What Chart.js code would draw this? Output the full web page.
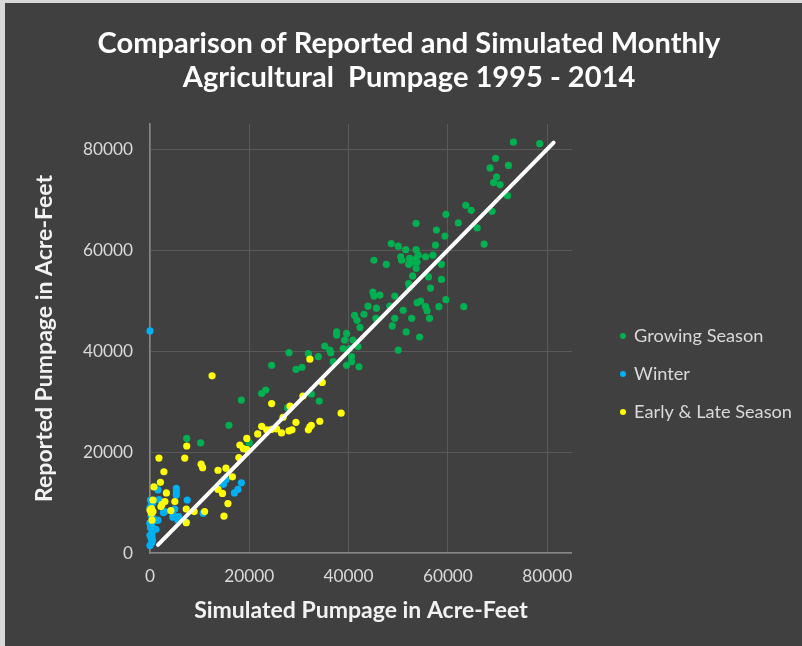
<!DOCTYPE html>
<html><head><meta charset="utf-8">
<script src="https://cdn.jsdelivr.net/npm/chart.js@4.4.1/dist/chart.umd.min.js"></script>
<style>
html,body{margin:0;padding:0;background:#d9d9d9;width:802px;height:646px;overflow:hidden;}
#wrap{position:absolute;left:5px;top:3px;width:797px;height:643px;background:#404040;}
canvas{display:block;}
</style></head><body><div id="wrap"><canvas id="c" width="797" height="643"></canvas></div>
<script>
// ---- data (acre-feet) ----
const titleLines = ['Comparison of Reported and Simulated Monthly', 'Agricultural  Pumpage 1995 - 2014'];
const xAxisTitle = 'Simulated Pumpage in Acre-Feet';
const yAxisTitle = 'Reported Pumpage in Acre-Feet';
const seriesNames = ['Growing Season', 'Winter', 'Early & Late Season'];
const tickValues = [0, 20000, 40000, 60000, 80000];

const growingX = [73200,78500,69600,68500,72200,69800,69200,70500,72000,63600,64700,68900,59600,53600,62100,57700,65900,59400,67300,48600,50000,51500,53600,57500,45100,47600,50500,50700,52300,52500,53500,54000,53800,55500,57000,52100,58700,53600,52900,56100,58700,52100,52300,56500,44900,45100,46300,49300,59600,43900,45600,48300,53800,54500,55500,55800,58200,63200,51000,41200,41700,43100,45500,49300,52700,56300,48800,42300,51600,54300,50000,37600,37600,39600,39200,40900,38900,40200,41900,40600,40600,39600,42100,35200,36200,36400,36900,28000,31900,33900,24500,29400,30600,22500,23300,18400,32500,34100,27700,15900,7400,10200,20000];
const growingY = [81400,81100,78200,76300,76800,74500,73400,73000,70800,68900,67900,67700,67100,65300,65400,64000,64400,62800,61200,61300,60800,60100,60100,61000,58000,57200,58700,58000,58400,57500,58200,59000,57600,58700,59000,57200,57200,56400,54900,54700,54200,53400,52600,52500,51700,50900,51100,50900,50200,48900,48500,48900,49600,49900,48800,48000,48800,48800,48100,47100,46100,47300,46500,46500,46500,46500,45000,44700,43800,42800,40200,43800,43200,43500,42200,42200,40500,40500,40900,38900,37900,37200,36900,41000,40200,39700,37900,39700,39500,38900,37200,36400,36800,31600,32300,30300,31500,30100,28800,25300,22700,21800,21800];

const winterX = [0,18400,17700,17000,14800,15300,5300,5300,5300,1600,1800,7500,5000,3000,4600,5600,7300,10700,1600,600,1200,2700,4700,5800,1000,0,300,500,200,0,400,600,100,300,0,500,200,400,0,300,600,100,400,0];
const winterY = [44000,13900,12600,11900,13600,14500,12800,12100,11500,12500,10600,10500,8700,8200,7100,6500,6100,7900,6500,4900,4700,8000,7500,7200,6500,1500,2000,2500,3000,3500,4000,4500,5000,5500,6000,7000,7500,8500,9000,9500,10000,10500,3200,5800];

const earlyLateX = [38500,32200,34700,30800,24500,28200,26800,29400,34200,22500,23500,24500,25500,26500,28000,28600,32200,32500,31900,21700,19500,18800,19500,18100,17900,12500,7400,1800,7000,10300,10600,2800,13700,15300,16600,2100,800,3300,13700,14600,15700,600,5000,2400,3000,2200,300,600,300,0,4200,7300,8900,11000,14900,400,7300];
const earlyLateY = [27700,38400,33800,31100,29600,29100,26900,25900,26100,25100,24400,24500,24600,23800,24200,24400,25000,25300,24400,23600,22700,20700,20500,21400,18900,35100,21200,18800,18800,17600,16900,16100,16400,16800,15100,14000,13100,11900,12600,11800,9800,10500,10200,9600,10200,9200,8800,8200,7900,8500,8400,8700,8200,8200,7300,6500,6000];

const refLineX = [1600, 81300];
const refLineY = [1600, 81300];

const axisMax = 85000;

// ---- styling / layout ----
const W = 797, H = 643;
const FONT = 'Lato';
const mctx = document.createElement('canvas').getContext('2d');
function fitSize(text, weight, target) {
  mctx.font = weight + ' 100px ' + FONT;
  return 100 * target / mctx.measureText(text).width;
}
function measure(text, weight, size) {
  mctx.font = weight + ' ' + size + 'px ' + FONT;
  return mctx.measureText(text).width;
}
const titleSize = fitSize(titleLines[0], 'bold', 623);
const axisTitleSize = fitSize(xAxisTitle, 'bold', 334);
const tickSize = fitSize('80000', 'normal', 50);
const legendSize = fitSize(seriesNames[2], 'normal', 158);

const chartLeft = 145, chartRight = 567, chartTop = 121, chartBottom = 550;
const layoutBottom = 22;
const titleLH = 34;
const titleCenterX = 404;
const legendPad = 38 - legendSize;
const legendBoxW = 4;
const legendItemX = 616;
const legendFirstY = 333;
const legendTextW = measure(seriesNames[2], 'normal', legendSize);
const legendWidth = 10 + legendPad + legendBoxW + legendSize / 2 + legendTextW;
const legendLeft = legendItemX - legendPad;
const padRight = Math.max(0, W - legendLeft - legendWidth);
const padLeft = 2 * titleCenterX - W + padRight;
const dummyW = legendLeft - chartRight;
const axisLH = axisTitleSize * 1.2;
const tickLH = tickSize * 1.2;
// legend title spacer so that the first item sits at legendFirstY
const legendColH = 3 * (legendSize + legendPad);
const legendTitleH = 2 * (legendFirstY - legendSize / 2) - legendPad - (H - layoutBottom) + legendColH;

function pts(xs, ys) { return xs.map((x, i) => ({x: x, y: ys[i]})); }

const colors = ['#00b050', '#00b0f0', '#ffff00'];

new Chart(document.getElementById('c'), {
  type: 'scatter',
  data: {
    datasets: [
      {label: seriesNames[0], data: pts(growingX, growingY), backgroundColor: colors[0], borderColor: colors[0], pointRadius: 3.6, pointBorderWidth: 0, order: 3, clip: false, xAxisID: 'x', yAxisID: 'y'},
      {label: seriesNames[1], data: pts(winterX, winterY), backgroundColor: colors[1], borderColor: colors[1], pointRadius: 3.6, pointBorderWidth: 0, order: 2, clip: false, xAxisID: 'x', yAxisID: 'y'},
      {label: seriesNames[2], data: pts(earlyLateX, earlyLateY), backgroundColor: colors[2], borderColor: colors[2], pointRadius: 3.6, pointBorderWidth: 0, order: 1, clip: false, xAxisID: 'x', yAxisID: 'y'},
      {type: 'line', label: '1:1', data: pts(refLineX, refLineY), borderColor: '#ffffff', borderWidth: 4, borderCapStyle: 'round', pointRadius: 0, fill: false, order: 0, xAxisID: 'x', yAxisID: 'y'}
    ]
  },
  options: {
    responsive: false,
    animation: false,
    devicePixelRatio: 1,
    layout: {padding: {left: padLeft, top: 0, right: padRight, bottom: layoutBottom}},
    plugins: {
      tooltip: {enabled: false},
      title: {
        display: true,
        text: titleLines,
        color: '#ffffff',
        font: {family: FONT, size: titleSize, weight: 'bold', lineHeight: titleLH / titleSize},
        padding: {top: 41 - titleLH / 2, bottom: chartTop - (41 - titleLH / 2) - 2 * titleLH}
      },
      legend: {
        position: 'right',
        align: 'center',
        maxWidth: 400,
        title: {display: true, text: ' ', font: {family: FONT, size: 10, lineHeight: 1}, padding: {top: legendTitleH - 10, bottom: 0}},
        labels: {
          usePointStyle: true,
          pointStyle: 'circle',
          boxWidth: legendBoxW,
          boxHeight: 4.3,
          padding: legendPad,
          color: '#d9d9d9',
          font: {family: FONT, size: legendSize},
          filter: (item) => item.datasetIndex < 3,
          sort: (a, b) => a.datasetIndex - b.datasetIndex
        }
      }
    },
    scales: {
      x: {
        type: 'linear',
        position: 'bottom',
        min: 0, max: axisMax,
        afterBuildTicks: (s) => { s.ticks = tickValues.map(v => ({value: v})); },
        ticks: {color: '#d9d9d9', font: {family: FONT, size: tickSize}, padding: 23 - tickLH / 2, maxRotation: 0, callback: (v) => String(v)},
        grid: {color: '#595959', lineWidth: 1, drawTicks: false},
        border: {display: true, color: '#868686', width: 1.5},
        title: {display: true, text: xAxisTitle, color: '#f2f2f2', font: {family: FONT, size: axisTitleSize, weight: 'bold'}, padding: {top: 0, bottom: Math.max(0, 12 - axisLH / 2)}},
        afterFit: (s) => { s.height = H - layoutBottom - chartBottom; }
      },
      y: {
        type: 'linear',
        position: 'left',
        min: 0, max: axisMax,
        afterBuildTicks: (s) => { s.ticks = tickValues.map(v => ({value: v})); },
        ticks: {color: '#d9d9d9', font: {family: FONT, size: tickSize}, padding: 17, callback: (v) => String(v)},
        grid: {color: '#595959', lineWidth: 1, drawTicks: false},
        border: {display: true, color: '#868686', width: 1.5},
        title: {display: true, text: yAxisTitle, color: '#f2f2f2', font: {family: FONT, size: axisTitleSize, weight: 'bold'}, padding: {top: 40 - padLeft - axisLH / 2, bottom: 0}},
        afterFit: (s) => { s.width = chartLeft - padLeft; }
      },
      yR: {
        type: 'linear',
        position: 'right',
        display: true,
        grid: {display: false, drawTicks: false},
        border: {display: false},
        ticks: {display: false},
        afterFit: (s) => { s.width = dummyW; }
      }
    }
  }
});
</script>
</body></html>
